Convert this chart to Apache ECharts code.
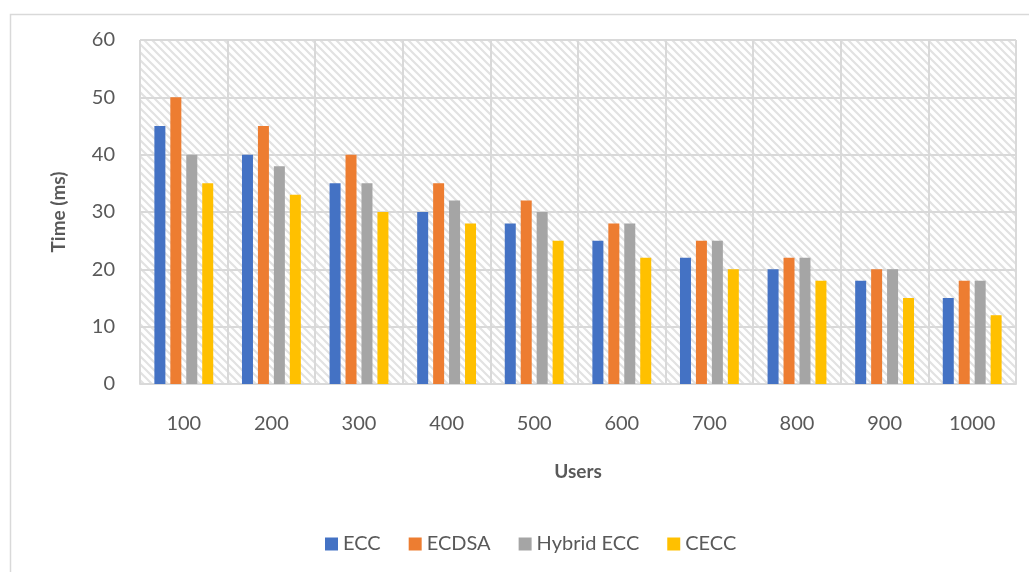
<!DOCTYPE html>
<html>
<head>
<meta charset="utf-8">
<script src="https://cdn.jsdelivr.net/npm/echarts@6/dist/echarts.min.js"></script>
<style>
  html, body { margin: 0; padding: 0; background: #fff; }
  #chart { width: 1029px; height: 572px; }
</style>
</head>
<body>
<div id="chart"></div>
<script>
// Users per test run
const users = ['100', '200', '300', '400', '500', '600', '700', '800', '900', '1000'];
// Processing time in ms for each scheme
const ecc = [45, 40, 35, 30, 28, 25, 22, 20, 18, 15];
const ecdsa = [50, 45, 40, 35, 32, 28, 25, 22, 20, 18];
const hybridEcc = [40, 38, 35, 32, 30, 28, 25, 22, 20, 18];
const cecc = [35, 33, 30, 28, 25, 22, 20, 18, 15, 12];
const yTicks = { min: 0, max: 60, step: 10 };

// diagonal hatch tile for the plot background
function hatchTile() {
  const s = 8;
  const c = document.createElement('canvas');
  c.width = s; c.height = s;
  const g = c.getContext('2d');
  g.fillStyle = '#ffffff';
  g.fillRect(0, 0, s, s);
  g.strokeStyle = '#e2e2e2';
  g.lineWidth = 2.2;
  g.beginPath();
  g.moveTo(-2, -2); g.lineTo(s + 2, s + 2);
  g.moveTo(-2, s - 2); g.lineTo(2, s + 2);
  g.moveTo(s - 2, -2); g.lineTo(s + 2, 2);
  g.stroke();
  return c;
}

const font = 'Lato, "Open Sans", sans-serif';
const textColor = '#595959';
const gridColor = '#d9d9d9';

const chart = echarts.init(document.getElementById('chart'), null, { renderer: 'canvas' });

function barSeries(name, data, color) {
  return {
    name: name,
    type: 'bar',
    data: data,
    barWidth: 11,
    barGap: '45%',
    itemStyle: { color: color },
    emphasis: { disabled: true }
  };
}

chart.setOption({
  animation: false,
  backgroundColor: '#ffffff',
  graphic: [{
    type: 'rect',
    left: 8, top: 12,
    shape: { width: 1100, height: 700 },
    style: { fill: 'none', stroke: gridColor, lineWidth: 1.5 },
    silent: true,
    z: -1
  }],
  grid: {
    left: 140, right: 13, top: 40, bottom: 188,
    show: true,
    borderWidth: 0,
    backgroundColor: { image: hatchTile(), repeat: 'repeat' }
  },
  legend: {
    top: 529,
    left: 320,
    itemWidth: 13,
    itemHeight: 13,
    itemGap: 28,
    icon: 'rect',
    textStyle: { color: textColor, fontSize: 20, fontFamily: font },
    data: ['ECC', 'ECDSA', 'Hybrid ECC', 'CECC']
  },
  xAxis: {
    type: 'category',
    data: users,
    name: 'Users',
    nameLocation: 'middle',
    nameGap: 78,
    nameTextStyle: { color: textColor, fontSize: 19, fontWeight: 'bold', fontFamily: font },
    axisTick: { show: false },
    axisLine: { show: true, lineStyle: { color: gridColor, width: 2 } },
    axisLabel: { color: textColor, fontSize: 20, fontFamily: font, margin: 30 },
    splitLine: { show: true, lineStyle: { color: gridColor, width: 2 } }
  },
  yAxis: {
    type: 'value',
    min: yTicks.min,
    max: yTicks.max,
    interval: yTicks.step,
    name: 'Time (ms)',
    nameLocation: 'middle',
    nameGap: 72,
    nameRotate: 90,
    nameTextStyle: { color: textColor, fontSize: 19, fontWeight: 'bold', fontFamily: font },
    axisLine: { show: false },
    axisTick: { show: false },
    axisLabel: { color: textColor, fontSize: 20, fontFamily: font, margin: 25 },
    splitLine: { show: true, lineStyle: { color: gridColor, width: 2 } }
  },
  series: [
    barSeries('ECC', ecc, '#4472C4'),
    barSeries('ECDSA', ecdsa, '#ED7D31'),
    barSeries('Hybrid ECC', hybridEcc, '#A5A5A5'),
    barSeries('CECC', cecc, '#FFC000')
  ]
});
</script>
</body>
</html>
